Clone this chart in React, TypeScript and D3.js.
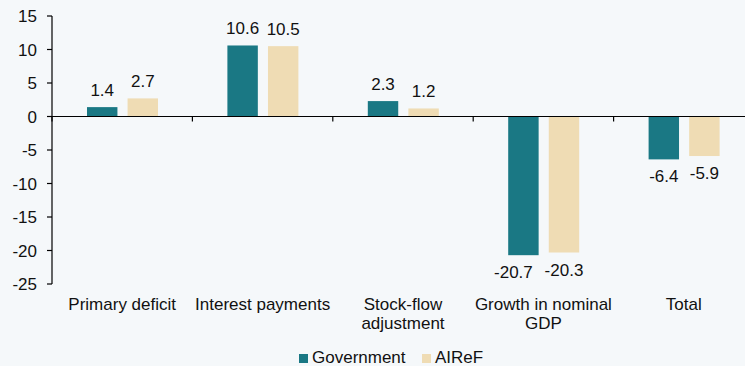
import React from "react";
import * as d3 from "d3";

const categories = [["Primary deficit"], ["Interest payments"], ["Stock-flow", "adjustment"], ["Growth in nominal", "GDP"], ["Total"]];
const government = [1.4, 10.6, 2.3, -20.7, -6.4];
const airef = [2.7, 10.5, 1.2, -20.3, -5.9];
const yTicks = [15, 10, 5, 0, -5, -10, -15, -20, -25];
const seriesNames = ["Government", "AIReF"];
const colors = ["#1a7884", "#efdcb4"];

export default function App() {
  const W = 745, H = 366;
  const left = 52, right = 754, top = 16, bottom = 284;
  const y = d3.scaleLinear().domain([-25, 15]).range([bottom, top]);
  const x = d3.scaleBand().domain(categories.map((_, i) => String(i))).range([left, right]);
  const xs = d3.scaleBand().domain(["0", "1"]).range([35, 35 + 71]).paddingInner(0.25).paddingOuter(0);
  const font = "'Liberation Sans', Arial, sans-serif";
  const fs = 17;
  const series = [government, airef];
  return (
    <svg width={W} height={H} style={{ position: "absolute", left: 0, top: 0, background: "#f5f8fa" }} fontFamily={font}>
      <rect width={W} height={H} fill="#f5f8fa" />
      {series.map((vals, s) =>
        vals.map((v, i) => {
          const bx = (x(String(i)) as number) + (xs(String(s)) as number);
          const y0 = y(0), y1 = y(v);
          // nudge a label left when it would collide with its neighbour
          const other = series[1 - s][i];
          const nudge = s === 0 && v < -15 && other < -15 ? -10 : 0;
          return (
            <g key={`${s}-${i}`}>
              <rect x={bx} y={Math.min(y0, y1)} width={xs.bandwidth()} height={Math.abs(y1 - y0)} fill={colors[s]} />
              <text x={bx + xs.bandwidth() / 2 + nudge} y={v >= 0 ? y1 - 11 : y1 + 23} textAnchor="middle" fontSize={fs} fill="#111">{v.toFixed(1)}</text>
            </g>
          );
        })
      )}
      <line x1={left} x2={left} y1={top} y2={bottom} stroke="#000" strokeWidth={1.2} />
      {yTicks.map((t) => (
        <g key={t}>
          <line x1={left - 5} x2={left} y1={y(t)} y2={y(t)} stroke="#000" strokeWidth={1.2} />
          <text x={left - 15} y={y(t) + 6} textAnchor="end" fontSize={fs} fill="#111">{t}</text>
        </g>
      ))}
      <line x1={left} x2={W} y1={y(0)} y2={y(0)} stroke="#000" strokeWidth={1.2} />
      {categories.map((_, i) => (
        <line key={i} x1={x(String(i))} x2={x(String(i))} y1={y(0)} y2={y(0) + 5} stroke="#000" strokeWidth={1.2} />
      ))}
      {categories.map((lines, i) => (
        <text key={i} x={(x(String(i)) as number) + x.bandwidth() / 2} y={310} textAnchor="middle" fontSize={fs} fill="#111">
          {lines.map((l, j) => (
            <tspan key={j} x={(x(String(i)) as number) + x.bandwidth() / 2} dy={j === 0 ? 0 : 19}>{l}</tspan>
          ))}
        </text>
      ))}
      {seriesNames.map((n, s) => {
        const lx = [299, 422][s];
        return (
          <g key={n}>
            <rect x={lx} y={354} width={9} height={9} fill={colors[s]} />
            <text x={lx + 13} y={363} fontSize={fs} fill="#111">{n}</text>
          </g>
        );
      })}
    </svg>
  );
}
